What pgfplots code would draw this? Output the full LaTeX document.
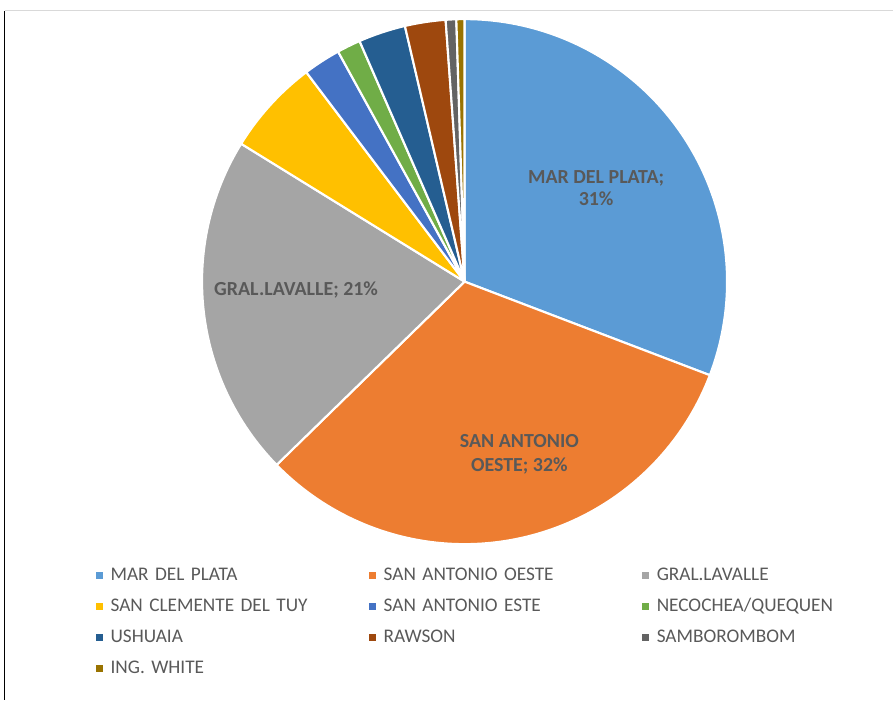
\documentclass[border=0pt]{standalone}
\usepackage{fontspec}
\setmainfont{Carlito}
\usepackage{pgfplots}
\usepackage{pgfplotstable}
\pgfplotsset{compat=1.18}

% Excel office palette
\definecolor{cMDP}{HTML}{5B9BD5}
\definecolor{cSAO}{HTML}{ED7D31}
\definecolor{cGL}{HTML}{A5A5A5}
\definecolor{cSC}{HTML}{FFC000}
\definecolor{cSAE}{HTML}{4472C4}
\definecolor{cNEC}{HTML}{70AD47}
\definecolor{cUSH}{HTML}{255E91}
\definecolor{cRAW}{HTML}{9E480E}
\definecolor{cSAM}{HTML}{636363}
\definecolor{cIW}{HTML}{997300}
\definecolor{cLab}{HTML}{595959}
\definecolor{cFrame}{HTML}{D9D9D9}

% share of each port, percent (clockwise from 12 o'clock)
\pgfplotstableread{
label                   value  col
{MAR DEL PLATA}         30.8   cMDP
{SAN ANTONIO OESTE}     31.9   cSAO
{GRAL.LAVALLE}          21.1   cGL
{SAN CLEMENTE DEL TUY}  5.9    cSC
{SAN ANTONIO ESTE}      2.3    cSAE
{NECOCHEA/QUEQUEN}      1.45   cNEC
{USHUAIA}               2.9    cUSH
{RAWSON}                2.5    cRAW
{SAMBOROMBOM}           0.65   cSAM
{ING. WHITE}            0.5    cIW
}\piedata

\newcommand\pierad{197.5pt}

\begin{document}
\begin{tikzpicture}
\begin{axis}[
    x=0.75pt, y=0.75pt,
    xmin=0, xmax=896, ymin=0, ymax=702,
    y dir=reverse,
    hide axis,
    clip=false,
    legend columns=3,
    legend cell align=left,
    legend image code/.code={\fill[#1, draw=none] (0pt,-2.6pt) rectangle (5.2pt,2.6pt);},
    legend style={
        at={(axis cs:96,568.5)}, anchor=north west,
        draw=none, fill=none, inner sep=0pt, outer sep=0pt,
        row sep=10.4pt,
        cells={anchor=west},
        nodes={inner sep=0pt, text height=10pt, text depth=3pt,
               text width=180pt, align=left, text=cLab,
               font=\fontsize{14.5}{16}\selectfont},
        /tikz/every odd column/.append style={column sep=6pt},
        /tikz/every even column/.append style={column sep=14.25pt},
    },
]
\path (axis cs:0,0) rectangle (axis cs:896,702);
\draw[cFrame, line width=0.75pt] (axis cs:5,11) -- (axis cs:896,11);
\draw[black, line width=0.75pt] (axis cs:5,11) -- (axis cs:5,702);

\def\astart{90}
\pgfplotsforeachungrouped \i in {0,...,9}{%
  \pgfplotstablegetelem{\i}{value}\of\piedata \let\v\pgfplotsretval
  \pgfplotstablegetelem{\i}{col}\of\piedata \let\c\pgfplotsretval
  \pgfmathsetmacro\aend{\astart-3.6*\v}
  \edef\temp{\noexpand\fill[\c, draw=white, line width=1.6pt, line join=round]
    (axis cs:466,282.5) -- ++(\astart:\noexpand\pierad)
    arc[start angle=\astart, end angle=\aend, radius=\noexpand\pierad] -- cycle;}
  \temp
  \xdef\astart{\aend}
}

\pgfplotsforeachungrouped \i in {0,...,9}{%
  \pgfplotstablegetelem{\i}{col}\of\piedata \let\c\pgfplotsretval
  \edef\temp{\noexpand\addlegendimage{fill=\c, draw=none}}
  \temp
}
\legend{MAR DEL PLATA, SAN ANTONIO OESTE, GRAL.LAVALLE,
        SAN CLEMENTE DEL TUY, SAN ANTONIO ESTE, NECOCHEA/QUEQUEN,
        USHUAIA, RAWSON, SAMBOROMBOM, ING. WHITE}

\begin{scope}[every node/.style={text=cLab, font=\fontsize{15}{18}\selectfont\bfseries, anchor=base, inner sep=0pt}]
\node at (axis cs:598,184) {MAR DEL PLATA;};
\node at (axis cs:598,206) {31\%};
\node at (axis cs:297,296) {GRAL.LAVALLE; 21\%};
\node at (axis cs:521,449) {SAN ANTONIO};
\node at (axis cs:521,473) {OESTE; 32\%};
\end{scope}
\end{axis}
\end{tikzpicture}
\end{document}
